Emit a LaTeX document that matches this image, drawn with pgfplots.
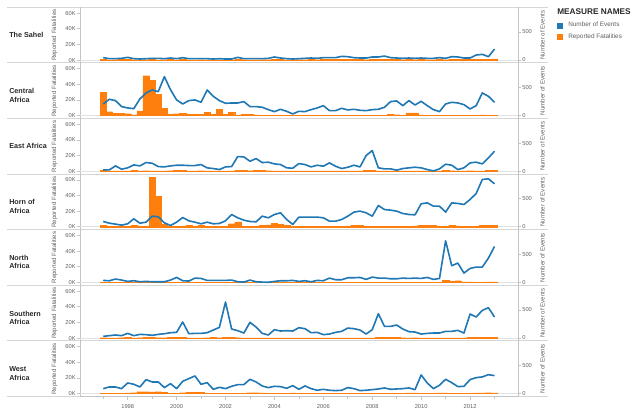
\documentclass[border=0pt]{standalone}
\usepackage{pgfplots}
\pgfplotsset{compat=1.18}
\usepackage{pgfplotstable}
\usepackage{fontspec}
\setmainfont{Liberation Sans}
\definecolor{tblue}{RGB}{31,119,180}
\definecolor{torange}{RGB}{255,127,14}
\definecolor{sepgray}{RGB}{214,214,214}
\definecolor{axgray}{RGB}{196,196,196}
\definecolor{zerogray}{RGB}{225,225,225}
\definecolor{txtgray}{RGB}{96,96,96}
\definecolor{hdrgray}{RGB}{40,40,40}

% t = quarter; F = reported fatalities, E = number of events
% s = The Sahel, c = Central, e = East, h = Horn, n = North, z = Southern, w = West
\pgfplotstableread{
t sF sE cF cE eF eE hF hE nF nE zF zE wF wE
1997.00 600 42 29800 208 800 24 2000 95 400 36 400 30 500 89
1997.25 300 24 5000 292 500 24 1000 65 400 30 300 42 600 119
1997.50 400 24 3000 268 600 95 500 48 500 60 300 54 800 119
1997.75 500 30 3000 161 500 36 500 30 400 42 400 42 600 89
1998.00 800 48 2500 137 500 60 800 54 300 18 500 83 1000 190
1998.25 300 24 1000 125 800 113 2000 143 300 30 300 42 1200 167
1998.50 300 18 6000 298 600 95 800 65 300 12 400 65 2500 119
1998.75 400 24 51000 405 700 155 800 83 300 18 700 60 2500 250
1999.00 500 30 45000 458 600 143 63000 190 300 12 700 48 2200 208
1999.25 300 30 27600 428 500 83 38700 178 300 12 400 65 2500 208
1999.50 400 24 9400 696 500 77 3500 71 300 12 400 77 2000 107
1999.75 600 36 2000 464 700 95 1000 24 300 42 600 95 800 178
2000.00 300 24 2500 280 1500 107 1000 83 500 89 800 101 600 89
2000.25 500 42 3000 208 800 107 1000 167 300 30 800 286 1200 220
2000.50 300 24 1700 268 600 101 1500 107 300 24 300 77 1500 268
2000.75 300 24 1300 280 500 101 800 83 400 77 300 83 2000 315
2001.00 400 24 1300 238 700 119 1500 54 400 71 300 83 1800 167
2001.25 300 24 4500 458 500 60 800 83 300 36 400 95 800 196
2001.50 200 18 1300 345 400 48 800 54 300 36 500 143 600 77
2001.75 300 24 7700 268 400 30 1000 60 300 36 400 190 500 113
2002.00 300 18 1500 220 500 77 1000 107 300 36 1000 643 600 89
2002.25 300 18 4000 226 600 83 4000 220 300 42 600 161 500 131
2002.50 700 48 1000 226 1000 262 6400 161 300 12 400 131 600 161
2002.75 400 24 1300 250 800 256 1000 119 300 6 300 89 800 161
2003.00 300 24 1300 161 700 178 500 95 300 42 300 280 1200 256
2003.25 300 24 1000 161 800 226 800 89 300 12 300 196 1200 208
2003.50 400 24 600 149 1200 155 2000 190 300 6 300 83 1000 137
2003.75 400 30 500 107 700 161 2500 161 300 3 300 54 600 107
2004.00 900 54 400 71 600 131 4200 220 300 18 300 149 500 131
2004.25 500 36 500 113 500 119 3000 250 300 30 300 125 500 125
2004.50 300 24 400 77 400 60 1500 131 300 30 300 131 800 95
2004.75 300 18 300 30 400 54 800 42 300 36 300 125 1000 143
2005.00 400 24 400 77 600 137 800 173 300 18 300 184 600 77
2005.25 400 30 400 71 500 119 1000 173 300 30 300 167 500 137
2005.50 600 36 500 107 400 77 1000 173 300 12 300 95 500 89
2005.75 400 30 500 137 500 107 800 173 300 36 300 101 600 60
2006.00 700 42 600 178 400 89 800 161 300 30 300 60 800 77
2006.25 600 42 400 89 600 149 800 101 400 77 300 71 700 60
2006.50 800 42 400 89 400 89 800 101 300 48 300 101 500 54
2006.75 1200 65 500 131 300 48 1000 131 400 48 300 119 400 60
2007.00 900 60 400 101 400 71 1200 190 400 83 300 178 500 107
2007.25 600 42 400 113 500 107 2000 262 400 83 300 167 600 89
2007.50 500 36 400 95 400 77 1500 280 400 89 300 143 500 54
2007.75 400 36 400 89 1000 280 1000 250 300 54 300 71 400 60
2008.00 700 54 500 107 1500 369 800 190 400 95 300 149 500 71
2008.25 800 54 500 113 500 60 1000 381 400 77 900 434 500 83
2008.50 1000 71 800 149 400 42 800 309 400 77 500 208 600 101
2008.75 600 42 2000 250 400 42 800 298 300 65 900 208 600 77
2009.00 500 36 1200 262 300 18 800 280 300 65 900 232 500 83
2009.25 400 30 800 178 400 48 1000 238 400 77 400 161 700 89
2009.50 500 36 3400 268 500 60 1000 220 300 71 300 113 900 101
2009.75 400 30 3400 190 500 71 1200 214 300 77 400 107 1000 71
2010.00 500 36 1000 256 400 60 1500 411 300 71 300 71 800 333
2010.25 400 30 800 178 300 30 2000 428 300 89 300 83 600 190
2010.50 400 30 500 107 300 5 1500 369 300 54 300 89 700 89
2010.75 600 42 400 71 400 42 1000 369 300 71 300 89 900 149
2011.00 400 30 700 208 800 125 800 262 2500 744 300 119 1000 256
2011.25 900 60 800 238 700 107 2000 428 1200 298 300 119 700 196
2011.50 700 54 700 226 400 30 1200 417 2200 345 300 137 600 125
2011.75 500 36 600 196 500 60 800 399 800 167 300 89 600 131
2012.00 600 36 500 119 700 149 1000 488 600 250 700 428 800 250
2012.25 1000 89 600 178 600 161 1000 595 500 274 700 375 1000 286
2012.50 1200 101 900 405 600 131 2000 845 500 274 700 494 1000 298
2012.75 900 60 800 345 800 238 1500 857 600 434 700 541 1200 339
2013.00 1500 196 600 238 1200 357 2000 768 800 643 700 375 1000 321
}\data

\pgfplotsset{
  base/.style={scale only axis, width=328.5pt, height=41.7pt, anchor=south west,
    xmin=1996.05, xmax=2013.96, axis x line=none,
    scaled y ticks=false, scaled x ticks=false,
    axis line style={axgray, line width=0.6pt},
    tick style={axgray, line width=0.5pt}, tick align=outside, major tick length=2.25pt,
    yticklabel style={font=\fontsize{4.3}{5}\selectfont, text=txtgray, inner sep=0.8pt},
    ylabel style={font=\fontsize{4.6}{5}\selectfont, text=txtgray, anchor=center}},
  fatax/.style={base, ymin=-3700, ymax=67300, axis y line*=left,
    ytick={0,20000,40000,60000}, yticklabels={0K,20K,40K,60K},
    ylabel={Reported Fatalities},
    ylabel style={at={(axis description cs:-0.0582,0.5)}}},
  evax/.style={base, ymin=-52, ymax=941, axis y line*=right,
    ytick={0,500}, yticklabels={0,500},
    ylabel={Number of Events},
    ylabel style={at={(axis description cs:1.056,0.5)}}},
}

\tikzset{rowlbl/.style={anchor=west, align=left, inner sep=0pt,
  font=\bfseries\fontsize{5.4}{6.4}\selectfont, text=hdrgray}}

% #1 y position, #2 fatalities column, #3 events column, #4 extra options, #5 extra code
\newcommand{\panel}[5]{%
  \begin{axis}[fatax, at={(60pt,#1)}]
    \draw[zerogray, line width=0.6pt] (axis cs:1996.05,0) -- (axis cs:2013.96,0);
    \addplot[ybar, bar width=0.25, fill=torange, draw=torange, line width=0.25pt, forget plot]
      table[x=t, y=#2] {\data};
  \end{axis}
  \begin{axis}[evax, at={(60pt,#1)}, #4]
    \addplot[tblue, line width=1.2pt, line join=round, forget plot] table[x=t, y=#3] {\data};
    #5
  \end{axis}
}

\begin{document}
\begin{tikzpicture}
\path[use as bounding box] (0,0) rectangle (480pt,310.5pt);
\foreach \k in {0,...,7}
  \draw[sepgray, line width=0.7pt] (5.25pt,{13.1pt+\k*41.7pt}) -- (411pt,{13.1pt+\k*41.7pt});

\panel{263.3pt}{sF}{sE}{legend style={at={(axis description cs:1.089,0.735)}, anchor=north west,
    draw=none, fill=none, inner sep=0pt, font=\fontsize{4.8}{5.5}\selectfont, text=txtgray,
    row sep=3.4pt, nodes={inner sep=0pt}},
    legend cell align=left}{%
  \addlegendimage{legend image code/.code={\path[fill=tblue, draw=none] (0pt,-2.25pt) rectangle (4.5pt,2.25pt); \path[draw=none, fill=none] (0pt,0pt) -- (8.25pt,0pt);}}
  \addlegendentry{Number of Events}
  \addlegendimage{legend image code/.code={\path[fill=torange, draw=none] (0pt,-2.25pt) rectangle (4.5pt,2.25pt); \path[draw=none, fill=none] (0pt,0pt) -- (8.25pt,0pt);}}
  \addlegendentry{Reported Fatalities}}
\panel{221.6pt}{cF}{cE}{}{}
\panel{179.9pt}{eF}{eE}{}{}
\panel{138.2pt}{hF}{hE}{}{}
\panel{96.5pt}{nF}{nE}{}{}
\panel{54.8pt}{zF}{zE}{}{}
\panel{13.1pt}{wF}{wE}{}{}

\begin{axis}[scale only axis, width=328.5pt, height=41.7pt, anchor=south west, at={(60pt,13.1pt)},
  xmin=1996.05, xmax=2013.96, ymin=0, ymax=1, axis y line=none, axis x line*=bottom,
  scaled x ticks=false,
  axis line style={axgray, line width=0.7pt},
  xtick={1998,2000,2002,2004,2006,2008,2010,2012},
  xticklabels={1998,2000,2002,2004,2006,2008,2010,2012},
  minor xtick={1997,1999,2001,2003,2005,2007,2009,2011,2013},
  tick align=outside, major tick length=2.25pt, minor tick length=1.5pt,
  tick style={axgray, line width=0.5pt},
  xticklabel style={font=\fontsize{4.3}{5}\selectfont, text=txtgray}]
\end{axis}

\node[rowlbl] at (6.75pt,284.15pt) {The Sahel};
\node[rowlbl] at (6.75pt,239.0pt) {Central\\Africa};
\node[rowlbl] at (6.75pt,200.75pt) {East Africa};
\node[rowlbl] at (6.75pt,155.6pt) {Horn of\\Africa};
\node[rowlbl] at (6.75pt,113.9pt) {North\\Africa};
\node[rowlbl] at (6.75pt,72.2pt) {Southern\\Africa};
\node[rowlbl] at (6.75pt,30.5pt) {West\\Africa};
\node[anchor=west, inner sep=0pt, font=\bfseries\fontsize{6.2}{7}\selectfont, text=hdrgray]
  at (417.75pt,301.5pt) {MEASURE NAMES};
\end{tikzpicture}
\end{document}
